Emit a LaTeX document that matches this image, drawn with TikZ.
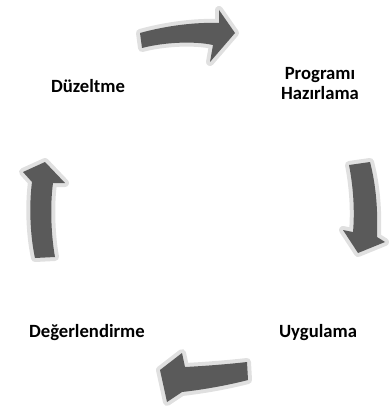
\documentclass[tikz,border=0pt]{standalone}
\usepackage{fontspec}
\setmainfont{Carlito}
\definecolor{arrowfill}{HTML}{5A5A5A}
\definecolor{halo}{HTML}{E0E0E0}
\begin{document}
\begin{tikzpicture}[x=0.75pt,y=-0.75pt,
  cyclearrow/.style={fill=arrowfill, preaction={draw=halo, line width=6pt, line join=round}},
  label/.style={font=\bfseries\fontsize{14}{15}\selectfont, align=center, inner sep=0pt, text=black}]
\useasboundingbox (0,0) rectangle (389,410);
% top arrow
\path[cyclearrow] (140,33) .. controls (165,26) and (195,22) .. (219,23) -- (219,10) -- (235,33) -- (210,62) -- (213,45) .. controls (195,41) and (165,42) .. (142,48) -- cycle;
% right arrow
\path[cyclearrow] (349,165) -- (370,162) .. controls (376,185) and (378,210) .. (377,237) -- (385,242) -- (358,253) -- (343,230) -- (353,232) .. controls (355,210) and (353,185) .. (349,165) -- cycle;
% bottom arrow
\path[cyclearrow] (247,362) .. controls (230,364) and (205,366) .. (185,367) -- (182,353) -- (160,370) -- (167,402) -- (182,392) .. controls (200,390) and (225,386) .. (248,380) -- cycle;
% left arrow
\path[cyclearrow] (45,162) -- (23,172) -- (32,182) .. controls (29,205) and (30,235) .. (35,258) -- (55,257) .. controls (51,235) and (50,205) .. (53,183) -- (65,183) -- cycle;
% labels
\node[label] (duz) at (88,86) {Düzeltme};
\node[label] (prog) at (320,84) {Programı\\Hazırlama};
\node[label] (deg) at (87,333) {Değerlendirme};
\node[label] (uyg) at (318,333) {Uygulama};
\end{tikzpicture}
\end{document}
